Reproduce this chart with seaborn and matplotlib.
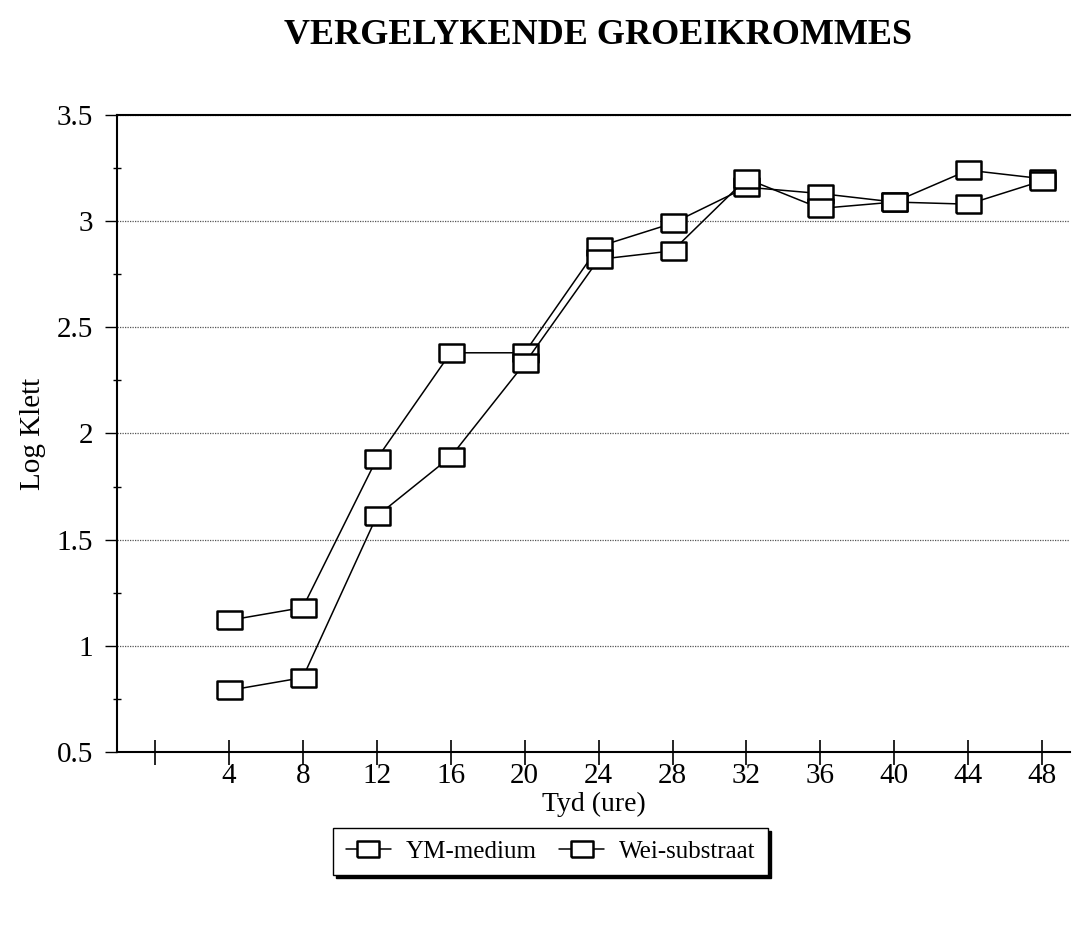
import pandas as pd
import seaborn as sns
import matplotlib.pyplot as plt

# Data
hours = [4, 8, 12, 16, 20, 24, 28, 32, 36, 40, 44, 48]
ym_medium = [1.12, 1.18, 1.88, 2.38, 2.38, 2.88, 2.99, 3.16, 3.13, 3.09, 3.24, 3.20]
wei_substraat = [0.79, 0.85, 1.61, 1.89, 2.33, 2.82, 2.86, 3.20, 3.06, 3.09, 3.08, 3.19]
x_ticks = [0, 4, 8, 12, 16, 20, 24, 28, 32, 36, 40, 44, 48]
x_tick_labels = [""] + [str(h) for h in hours]

sns.set_style("white")
plt.rcParams["font.family"] = ["Liberation Serif", "DejaVu Serif"]
plt.rcParams["text.color"] = "black"
plt.rcParams["axes.labelcolor"] = "black"
plt.rcParams["xtick.color"] = "black"
plt.rcParams["ytick.color"] = "black"

fig = plt.figure(figsize=(10.76, 9.41), dpi=100)
ax = fig.add_axes([0.1087, 0.2009, 0.8857, 0.6769])

box = [(-1.4, -1), (1.4, -1), (1.4, 1), (-1.4, 1), (-1.4, -1)]
for vals, name in [(ym_medium, "YM-medium"), (wei_substraat, "Wei-substraat")]:
    sns.lineplot(x=hours, y=vals, ax=ax, color="black", linewidth=1.1,
                 marker=box, markersize=18, markerfacecolor="white",
                 markeredgecolor="black", markeredgewidth=1.8, label=name)

ax.set_xlim(-2.05, 49.5)
ax.set_ylim(0.5, 3.5)
ax.set_xticks(x_ticks)
ax.set_xticklabels(x_tick_labels)
ax.set_yticks([0.5, 1, 1.5, 2, 2.5, 3, 3.5])
ax.set_yticklabels(["0.5", "1", "1.5", "2", "2.5", "3", "3.5"])
ax.set_yticks([0.75, 1.25, 1.75, 2.25, 2.75, 3.25], minor=True)

ax.yaxis.grid(True, which="major", linestyle=(0, (1, 1)), color="#555555", linewidth=0.9)
ax.xaxis.grid(False)

for side in ["left", "bottom", "top"]:
    ax.spines[side].set_visible(True)
    ax.spines[side].set_color("black")
    ax.spines[side].set_linewidth(1.5)
ax.spines["right"].set_visible(False)

ax.tick_params(axis="y", which="major", direction="out", length=9, width=1,
               labelsize=21, pad=8, left=True)
ax.tick_params(axis="y", which="minor", direction="inout", length=6, width=1, left=True)
ax.tick_params(axis="x", which="major", direction="inout", length=18, width=1.2,
               labelsize=21, pad=-1, bottom=True)

ax.set_xlabel("Tyd (ure)", fontsize=20, labelpad=2)
ax.set_ylabel("Log Klett", fontsize=21, labelpad=8)

fig.text(0.556, 0.962, "VERGELYKENDE GROEIKROMMES", ha="center", va="center",
         fontsize=26, fontweight="bold")

ax.get_legend().remove()
handles, labels = ax.get_legend_handles_labels()
leg = fig.legend(handles, labels, loc="center", bbox_to_anchor=(0.512, 0.095),
                 ncol=2, fontsize=18, frameon=True, fancybox=False,
                 shadow={"color": "black", "alpha": 1}, edgecolor="black",
                 handlelength=1.8, handletextpad=0.6, columnspacing=0.9,
                 borderpad=0.5, markerscale=0.9)
leg.get_frame().set_linewidth(1.0)

fig.savefig("out.png", dpi=100)
